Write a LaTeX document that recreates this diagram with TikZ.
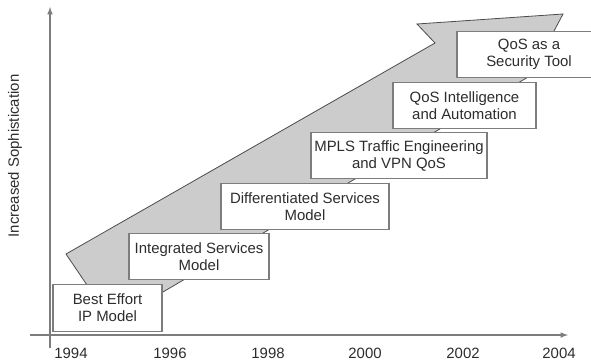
\documentclass[tikz,border=0pt]{standalone}
\usepackage{fontspec}
\setmainfont{Liberation Sans}
\usepackage{tikz}
\usepackage{xcolor}
\usetikzlibrary{shapes.geometric, arrows}
\definecolor{bandgray}{RGB}{204,204,204}
\definecolor{linegray}{RGB}{125,125,125}
\definecolor{textgray}{RGB}{45,45,45}
\tikzstyle{stage} = [rectangle, minimum height=35pt, inner sep=1pt, align=center, draw=linegray, line width=0.8pt, fill=white, text=textgray]
\tikzstyle{axisline} = [line width=0.9pt, linegray, -latex]
\tikzstyle{year} = [text=textgray]

\begin{document}
\begin{tikzpicture}[x=0.75pt, y=-0.75pt, font=\fontsize{11.2}{12.75}\selectfont]
                    \useasboundingbox (0,0) rectangle (591,362);

                    % the rising band
                    \draw[fill=bandgray, draw=black!70, line width=0.6pt] (66,254) -- (435,43) -- (417,24) -- (563,14) -- (554,31) -- (540,70) -- (112,322) -- cycle;

                    % axes
                    \coordinate (xstart) at (30,335);
                    \coordinate (xend) at (568,335);
                    \coordinate (ybot) at (50,348);
                    \coordinate (ytop) at (50,7);
                    \draw[axisline] (xstart) -- (xend);
                    \draw[axisline] (ybot) -- (ytop);
                    \node[rotate=90, text=textgray] (ylabel) at (15,156) {Increased Sophistication};

                    \foreach \yr/\xx in {1994/71, 1996/170, 1998/268, 2000/365, 2002/463, 2004/559}
                        \node[year] (y\yr) at (\xx,353) {\yr};

                    % stages
                    \node[stage, minimum width=81.75pt] (besteffort) at (107.5,308) {Best Effort\\IP Model};
                    \node[stage, minimum width=105pt] (intserv) at (199,256.5) {Integrated Services\\Model};
                    \node[stage, minimum width=126pt] (diffserv) at (305,206.5) {Differentiated Services\\Model};
                    \node[stage, minimum width=132pt] (mpls) at (399,155.5) {MPLS Traffic Engineering\\and VPN QoS};
                    \node[stage, minimum width=107.25pt] (qosauto) at (464.5,105.5) {QoS Intelligence\\and Automation};
                    \node[stage, minimum width=108pt] (qossec) at (529,54.5) {QoS as a\\Security Tool};
                \end{tikzpicture}
\end{document}
